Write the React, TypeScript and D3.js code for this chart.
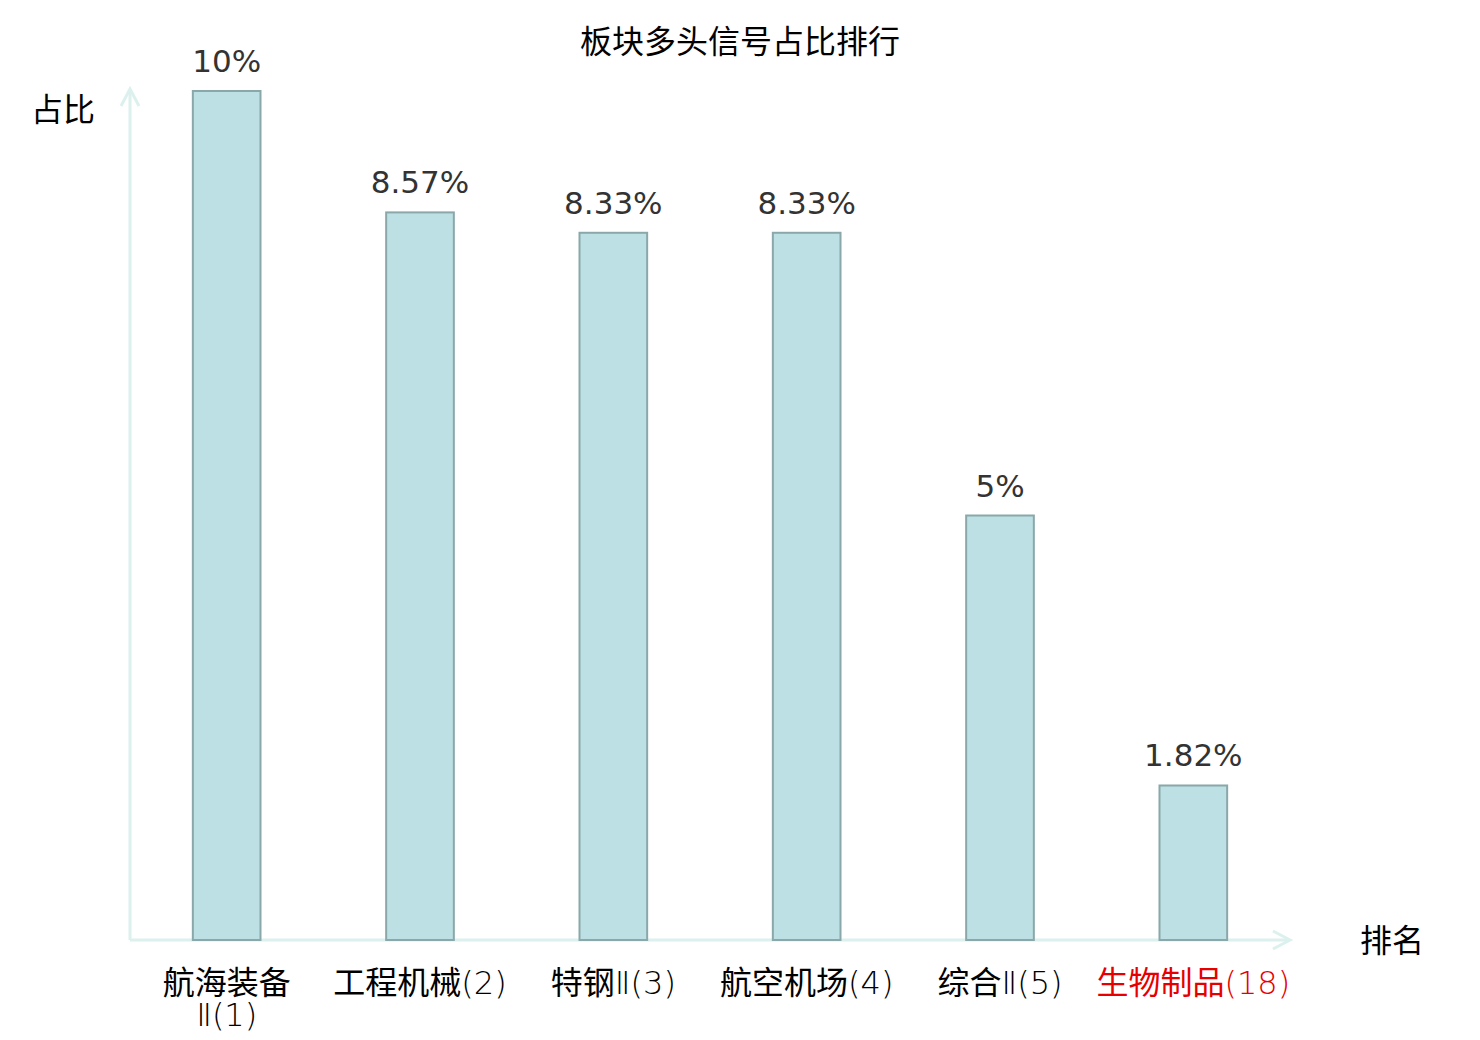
import * as d3 from 'd3'
import { useEffect, useRef } from 'react'

const TITLE = '板块多头信号占比排行'
const Y_NAME = '占比'
const X_NAME = '排名'
const CATEGORIES = ['航海装备Ⅱ(1)', '工程机械(2)', '特钢Ⅱ(3)', '航空机场(4)', '综合Ⅱ(5)', '生物制品(18)']
// tick labels as shown, with the line break of the first one
const TICK_LABELS = ['航海装备\nⅡ(1)', '工程机械(2)', '特钢Ⅱ(3)', '航空机场(4)', '综合Ⅱ(5)', '生物制品(18)']
const VALUES = [10, 8.57, 8.33, 8.33, 5, 1.82]
const VALUE_LABELS = ['10%', '8.57%', '8.33%', '8.33%', '5%', '1.82%']
const HIGHLIGHT = ['生物制品(18)']

const CJK = '"Noto Sans CJK SC", "Noto Sans", sans-serif'
const LATIN = '"DejaVu Sans", sans-serif'

// split a label into runs: each CJK char alone, latin runs kept whole
function tokens(s: string) {
  return s.match(/[\u3400-\u9fff]|[^\u3400-\u9fff]+/g) ?? []
}
const isCjk = (s: string) => /[\u3400-\u9fff]/.test(s)

export default function App() {
  const ref = useRef<HTMLDivElement>(null)

  useEffect(() => {
    const width = 1480
    const height = 1040
    const left = 130
    const right = 1290
    const top = 91
    const bottom = 940

    const x = d3.scaleBand().domain(CATEGORIES).range([left, right]).paddingInner(0.65).paddingOuter(0.325)
    const y = d3.scaleLinear().domain([0, 10]).range([bottom, top])

    const svg = d3
      .create('svg')
      .attr('width', width)
      .attr('height', height)
      .attr('viewBox', [0, 0, width, height])
      .style('display', 'block')
      .style('background', '#fff')

    // title
    svg
      .append('text')
      .attr('x', 740)
      .attr('y', 42)
      .attr('text-anchor', 'middle')
      .attr('dy', '0.35em')
      .attr('font-family', CJK)
      .attr('font-size', 32)
      .attr('fill', '#000')
      .text(TITLE)

    // axes with open arrowheads
    const axisColor = '#dcf1ee'
    const axes = svg.append('g').attr('stroke', axisColor).attr('stroke-width', 3).attr('fill', 'none')
    axes.append('line').attr('x1', left).attr('x2', left).attr('y1', bottom).attr('y2', top - 2)
    axes.append('path').attr('d', `M${left - 9},${top + 15}L${left},${top - 2}L${left + 9},${top + 15}`)
    axes.append('line').attr('x1', left).attr('x2', right).attr('y1', bottom).attr('y2', bottom)
    axes.append('path').attr('d', `M${right - 17},${bottom - 9}L${right},${bottom}L${right - 17},${bottom + 9}`)

    svg
      .append('text')
      .attr('x', 63)
      .attr('y', 110)
      .attr('dy', '0.35em')
      .attr('text-anchor', 'middle')
      .attr('font-family', CJK)
      .attr('font-size', 32)
      .text(Y_NAME)
    svg
      .append('text')
      .attr('x', 1392)
      .attr('y', 941)
      .attr('dy', '0.35em')
      .attr('text-anchor', 'middle')
      .attr('font-family', CJK)
      .attr('font-size', 32)
      .text(X_NAME)

    // bars
    svg
      .append('g')
      .selectAll('rect')
      .data(CATEGORIES)
      .join('rect')
      .attr('x', (d) => x(d) as number)
      .attr('y', (_, i) => y(VALUES[i]))
      .attr('width', x.bandwidth())
      .attr('height', (_, i) => y(0) - y(VALUES[i]))
      .attr('fill', '#bce0e3')
      .attr('stroke', '#8aa7a9')
      .attr('stroke-width', 2)

    // value labels
    svg
      .append('g')
      .selectAll('text')
      .data(CATEGORIES)
      .join('text')
      .attr('x', (d) => (x(d) as number) + x.bandwidth() / 2)
      .attr('y', (_, i) => y(VALUES[i]) - 19)
      .attr('text-anchor', 'middle')
      .attr('font-family', LATIN)
      .attr('font-size', 31)
      .attr('fill', '#333')
      .text((_, i) => VALUE_LABELS[i])

    // category labels: CJK in Noto Sans CJK, latin runs in light DejaVu
    const labelG = svg.append('g').attr('font-size', 32).attr('text-anchor', 'middle')
    CATEGORIES.forEach((d, i) => {
      const cx = (x(d) as number) + x.bandwidth() / 2
      const fill = HIGHLIGHT.includes(d) ? '#e60000' : '#000'
      TICK_LABELS[i].split('\n').forEach((line, k) => {
        const t = labelG
          .append('text')
          .attr('x', cx)
          .attr('y', 983 + k * 32)
          .attr('dy', '0.35em')
          .attr('fill', fill)
        tokens(line).forEach((tk) =>
          t
            .append('tspan')
            .attr('font-family', isCjk(tk) ? CJK : LATIN)
            .attr('font-weight', isCjk(tk) ? 400 : 200)
            .text(tk),
        )
      })
    })

    const chartNode = svg.node()
    if (ref.current && chartNode) {
      ref.current.innerHTML = ''
      ref.current.appendChild(chartNode)
    }
  }, [])

  return <div ref={ref} style={{ margin: -8 }} />
}
